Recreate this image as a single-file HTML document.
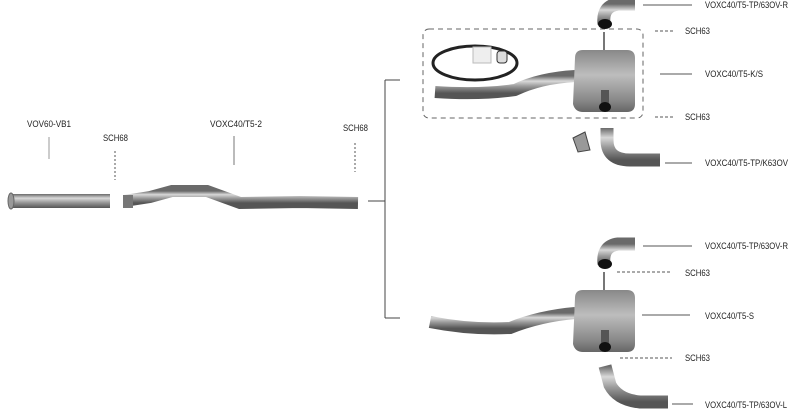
<!DOCTYPE html>
<html><head><meta charset="utf-8"><style>
html,body{margin:0;padding:0;background:#fff;width:790px;height:420px;overflow:hidden}
text{font-family:"Liberation Sans",sans-serif;font-size:9px;fill:#222}
</style></head><body>
<svg width="790" height="420" viewBox="0 0 790 420" xmlns="http://www.w3.org/2000/svg">
<defs>
<linearGradient id="m" x1="0" y1="0" x2="0" y2="1">
<stop offset="0" stop-color="#6a6a6a"/><stop offset=".3" stop-color="#d8d8d8"/><stop offset=".6" stop-color="#9a9a9a"/><stop offset="1" stop-color="#555"/></linearGradient>
<linearGradient id="b" x1="0" y1="0" x2="0" y2="1">
<stop offset="0" stop-color="#888"/><stop offset=".4" stop-color="#bdbdbd"/><stop offset=".8" stop-color="#8a8a8a"/><stop offset="1" stop-color="#666"/></linearGradient>
<g id="muf">
<path d="M2 8 Q2 0 10 0 H54 Q62 0 62 8 V54 Q62 62 54 62 H10 Q2 62 0 54 Z" fill="url(#b)"/>
<rect x="28" y="40" width="8" height="14" fill="#555"/>
<ellipse cx="32" cy="57" rx="6" ry="5" fill="#111"/>
<path d="M31 0 V-18" stroke="#777" stroke-width="2"/>
</g>
<g id="elb">
<path d="M6 24 Q4 6 20 4 H37" fill="none" stroke="url(#m)" stroke-width="13"/>
<ellipse cx="7" cy="24" rx="7" ry="5" fill="#111"/>
</g>
</defs>
<!-- left labels -->
<text x="27" y="127" textLength="44" lengthAdjust="spacingAndGlyphs">VOV60-VB1</text>
<line x1="49" y1="137" x2="49" y2="159" stroke="#999" stroke-width="1"/>
<text x="103" y="141" textLength="25" lengthAdjust="spacingAndGlyphs">SCH68</text>
<line x1="115" y1="151" x2="115" y2="180" stroke="#555" stroke-dasharray="2,2"/>
<text x="210" y="127" textLength="52" lengthAdjust="spacingAndGlyphs">VOXC40/T5-2</text>
<line x1="234" y1="136" x2="234" y2="165" stroke="#777"/>
<text x="343" y="131" textLength="25" lengthAdjust="spacingAndGlyphs">SCH68</text>
<line x1="355" y1="143" x2="355" y2="172" stroke="#555" stroke-dasharray="2,2"/>
<!-- pipes -->
<rect x="10" y="194" width="100" height="14" fill="url(#m)"/>
<ellipse cx="11" cy="201" rx="3" ry="8" fill="#999" stroke="#666"/>
<path d="M124 201 L150 197 L172 191 L207 191 L240 203 L300 202 L358 203" fill="none" stroke="url(#m)" stroke-width="12"/>
<rect x="123" y="195" width="10" height="13" fill="#777"/>
<!-- bracket -->
<path d="M368 201 H385 M385 80 V318 M385 80 H400 M385 318 H400" stroke="#444" fill="none"/>
<!-- top group -->
<rect x="423" y="29" width="220" height="89" rx="6" fill="none" stroke="#666" stroke-dasharray="5,4"/>
<use href="#elb" x="598" y="0"/>
<line x1="643" y1="5" x2="692" y2="5" stroke="#555"/><text x="705" y="8" textLength="83" lengthAdjust="spacingAndGlyphs">VOXC40/T5-TP/63OV-R</text>
<line x1="655" y1="31" x2="675" y2="31" stroke="#555" stroke-dasharray="3,2"/><text x="685" y="34" textLength="25" lengthAdjust="spacingAndGlyphs">SCH63</text>
<ellipse cx="475" cy="63" rx="42" ry="17" fill="none" stroke="#222" stroke-width="3"/>
<rect x="473" y="47" width="18" height="16" fill="#eee" stroke="#bbb"/>
<rect x="497" y="51" width="10" height="12" rx="3" fill="#ddd" stroke="#333"/>
<path d="M435 92 Q480 95 515 90 Q540 78 575 76" fill="none" stroke="url(#m)" stroke-width="12"/>
<use href="#muf" x="573" y="50"/>
<line x1="660" y1="74" x2="692" y2="74" stroke="#555"/><text x="705" y="77" textLength="58" lengthAdjust="spacingAndGlyphs">VOXC40/T5-K/S</text>
<line x1="655" y1="117" x2="675" y2="117" stroke="#555" stroke-dasharray="3,2"/><text x="685" y="120" textLength="25" lengthAdjust="spacingAndGlyphs">SCH63</text>
<path d="M607 128 V140 Q607 160 630 160 H660" fill="none" stroke="url(#m)" stroke-width="13"/>
<path d="M573 138 L585 132 L590 150 L578 152 Z" fill="#999" stroke="#444"/>
<line x1="665" y1="163" x2="692" y2="163" stroke="#555"/><text x="705" y="166" textLength="83" lengthAdjust="spacingAndGlyphs">VOXC40/T5-TP/K63OV</text>
<!-- bottom group -->
<use href="#elb" x="598" y="240"/>
<line x1="643" y1="246" x2="692" y2="246" stroke="#555"/><text x="705" y="249" textLength="83" lengthAdjust="spacingAndGlyphs">VOXC40/T5-TP/63OV-R</text>
<line x1="617" y1="272" x2="672" y2="272" stroke="#555" stroke-dasharray="3,2"/><text x="685" y="276" textLength="25" lengthAdjust="spacingAndGlyphs">SCH63</text>
<path d="M430 322 Q470 330 510 328 Q540 316 575 313" fill="none" stroke="url(#m)" stroke-width="12"/>
<use href="#muf" x="573" y="290"/>
<line x1="642" y1="315" x2="690" y2="315" stroke="#555"/><text x="705" y="319" textLength="49" lengthAdjust="spacingAndGlyphs">VOXC40/T5-S</text>
<line x1="620" y1="358" x2="672" y2="358" stroke="#555" stroke-dasharray="3,2"/><text x="685" y="361" textLength="25" lengthAdjust="spacingAndGlyphs">SCH63</text>
<path d="M605 366 L610 385 Q618 400 640 402 H668" fill="none" stroke="url(#m)" stroke-width="13"/>
<line x1="672" y1="404" x2="693" y2="404" stroke="#555"/><text x="705" y="408" textLength="82" lengthAdjust="spacingAndGlyphs">VOXC40/T5-TP/63OV-L</text>
</svg>
</body></html>
